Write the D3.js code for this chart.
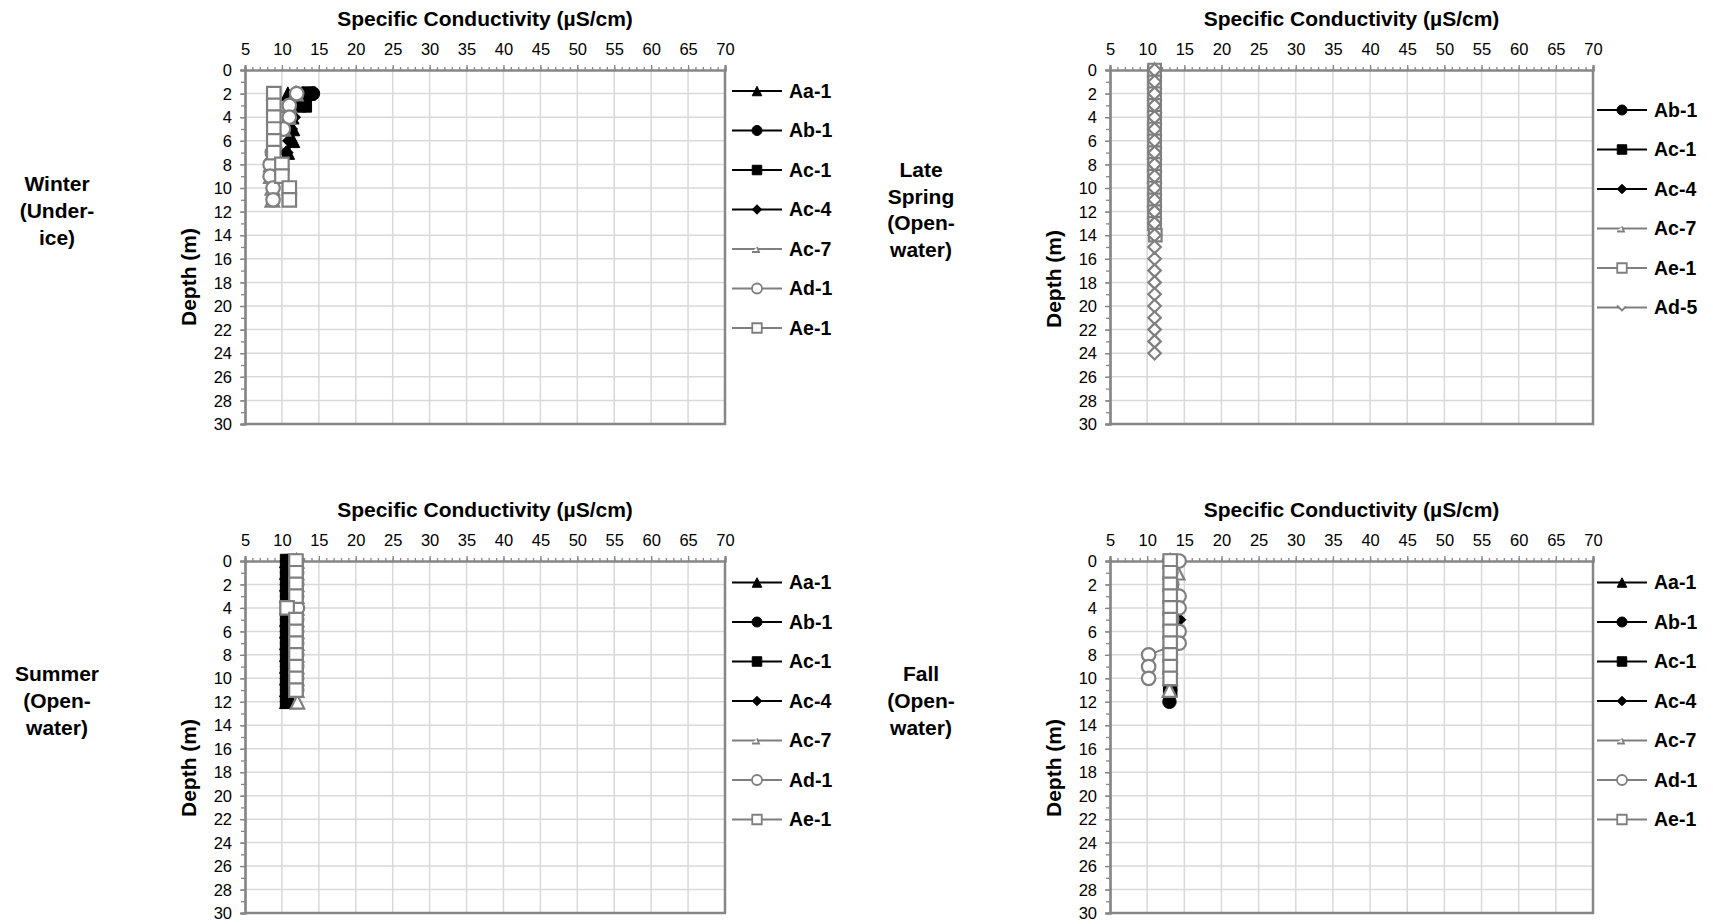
<!DOCTYPE html>
<html><head><meta charset="utf-8">
<script src="https://cdn.jsdelivr.net/npm/d3@7"></script>
<style>html,body{margin:0;padding:0;background:#fff;} svg{display:block;}</style>
</head><body>
<svg id="chart" width="1713" height="924"></svg>
<script>
// ---------- tick labels ----------
const condTicks  = [5,10,15,20,25,30,35,40,45,50,55,60,65,70];
const depthTicks = [0,2,4,6,8,10,12,14,16,18,20,22,24,26,28,30];

// ---------- Winter (Under-ice) ----------
const winterNames = ["Aa-1","Ab-1","Ac-1","Ac-4","Ac-7","Ad-1","Ae-1"];
const winterAa1Depth = [2,3,4,5,6,7];
const winterAa1Cond  = [10.8,11.3,11.4,11.5,11.5,10.8];
const winterAb1Depth = [2,3];
const winterAb1Cond  = [14.2,13.0];
const winterAc1Depth = [2,3];
const winterAc1Cond  = [13.6,13.1];
const winterAc4Depth = [2,3,4,5,6,7];
const winterAc4Cond  = [12.8,12.2,11.6,11.2,11.0,10.6];
const winterAc7Depth = [2,3,4,5,6,7,8,9,10,11];
const winterAc7Cond  = [11.9,11.0,10.9,10.2,9.0,8.8,8.5,8.5,8.7,8.7];
const winterAd1Depth = [2,3,4,5,6,7,8,9,10,11];
const winterAd1Cond  = [12.0,11.0,11.0,10.2,8.9,8.7,8.4,8.4,8.8,8.8];
const winterAe1Depth = [2,3,4,5,6,7,8,9,10,11];
const winterAe1Cond  = [8.9,8.9,8.9,8.9,8.9,8.9,10.0,10.0,11.0,11.0];

// ---------- Late Spring (Open-water) ----------
const springNames = ["Ab-1","Ac-1","Ac-4","Ac-7","Ae-1","Ad-5"];
const springAb1Depth = [0,1,2,3,4,5,6,7,8,9,10,11,12,13];
const springAb1Cond  = [11.0,11.0,11.0,11.0,11.0,11.0,11.0,11.0,11.0,11.0,11.0,11.0,11.0,11.0];
const springAc1Depth = [0,1,2,3,4,5,6,7,8,9,10,11,12,13];
const springAc1Cond  = [11.0,11.0,11.0,11.0,11.0,11.0,11.0,11.0,11.0,11.0,11.0,11.0,11.0,11.0];
const springAc4Depth = [0,1,2,3,4,5,6,7,8,9,10,11,12,13];
const springAc4Cond  = [11.0,11.0,11.0,11.0,11.0,11.0,11.0,11.0,11.0,11.0,11.0,11.0,11.0,11.0];
const springAc7Depth = [0,1,2,3,4,5,6,7,8,9,10,11,12,13];
const springAc7Cond  = [11.0,11.0,11.0,11.0,11.0,11.0,11.0,11.0,11.0,11.0,11.0,11.0,11.0,11.0];
const springAe1Depth = [0,1,2,3,4,5,6,7,8,9,10,11,12,13,14];
const springAe1Cond  = [11.0,11.0,11.0,11.0,11.0,11.0,11.0,11.0,11.0,11.0,11.0,11.0,11.0,11.0,11.1];
const springAd5Depth = [0,1,2,3,4,5,6,7,8,9,10,11,12,13,14,15,16,17,18,19,20,21,22,23,24];
const springAd5Cond  = [11.0,11.0,11.0,11.0,11.0,11.0,11.0,11.0,11.0,11.0,11.0,11.0,11.0,11.0,11.0,11.0,11.0,11.0,11.0,11.0,11.0,11.0,11.0,11.0,11.0];

// ---------- Summer (Open-water) ----------
const summerNames = ["Aa-1","Ab-1","Ac-1","Ac-4","Ac-7","Ad-1","Ae-1"];
const summerAa1Depth = [0,1,2,3,4,5,6,7,8,9,10,11,12];
const summerAa1Cond  = [10.6,10.6,10.6,10.6,10.6,10.6,10.6,10.6,10.6,10.6,10.6,10.6,10.6];
const summerAb1Depth = [0,1,2,3,4,5,6,7,8,9,10,11,12];
const summerAb1Cond  = [10.7,10.7,10.7,10.7,10.7,10.7,10.7,10.7,10.7,10.7,10.7,10.7,10.7];
const summerAc1Depth = [0,1,2,3,4,5,6,7,8,9,10,11,12];
const summerAc1Cond  = [10.7,10.7,10.7,10.7,10.7,10.7,10.7,10.7,10.7,10.7,10.7,10.7,10.7];
const summerAc4Depth = [0,1,2,3,4,5,6,7,8,9,10,11,12];
const summerAc4Cond  = [10.7,10.7,10.7,10.7,10.7,10.7,10.7,10.7,10.7,10.7,10.7,10.7,10.7];
const summerAc7Depth = [0,1,2,3,4,5,6,7,8,9,10,11,12];
const summerAc7Cond  = [12.0,12.0,12.0,12.0,12.0,12.0,12.0,12.0,12.0,12.0,12.0,12.0,12.1];
const summerAd1Depth = [0,1,2,3,4,5,6,7,8,9,10,11];
const summerAd1Cond  = [12.0,12.0,12.0,12.0,12.1,12.0,12.0,12.0,12.0,12.0,12.0,12.0];
const summerAe1Depth = [0,1,2,3,4,5,6,7,8,9,10,11];
const summerAe1Cond  = [11.9,11.9,11.9,11.9,10.7,11.9,11.9,11.9,11.9,11.9,11.9,11.9];

// ---------- Fall (Open-water) ----------
const fallNames = ["Aa-1","Ab-1","Ac-1","Ac-4","Ac-7","Ad-1","Ae-1"];
const fallAa1Depth = [0,1,2,3,4,5,6,7,8,9,10,11];
const fallAa1Cond  = [13.1,13.1,13.1,13.1,13.1,13.1,13.1,13.1,13.1,13.1,13.1,13.1];
const fallAb1Depth = [0,1,2,3,4,5,6,7,8,9,10,11,12];
const fallAb1Cond  = [13.1,13.1,13.1,13.1,13.1,13.1,13.1,13.1,13.1,13.1,13.1,13.1,13.0];
const fallAc1Depth = [0,1,2,3,4,5,6,7,8,9,10,11];
const fallAc1Cond  = [13.1,13.1,13.1,13.1,13.1,13.1,13.1,13.1,13.1,13.1,13.1,13.1];
const fallAc4Depth = [0,1,2,3,4,5,6,7,8,9,10,11];
const fallAc4Cond  = [13.1,13.1,13.1,13.1,13.1,14.3,13.1,13.1,13.1,13.1,13.1,13.1];
const fallAc7Depth = [0,1,2,3,4,5,6,7,8,9,10,11];
const fallAc7Cond  = [13.1,14.1,13.1,13.1,13.1,13.1,13.1,13.1,13.1,13.1,13.1,13.0];
const fallAd1Depth = [0,1,2,3,4,5,6,7,8,9,10];
const fallAd1Cond  = [14.3,13.2,13.3,14.3,14.3,13.3,14.3,14.3,10.2,10.2,10.2];
const fallAe1Depth = [0,1,2,3,4,5,6,7,8,9,10];
const fallAe1Cond  = [13.1,13.1,13.1,13.1,13.1,13.1,13.1,13.1,13.1,13.1,13.1];

// ---------- styles ----------
const FONT = "'Liberation Sans', Arial, Helvetica, sans-serif";
const GRAY = "#7f7f7f";
const AXIS = "#868686";
const styleOf = {
  "Aa-1": {shape:"triangle", color:"#000", fill:"#000"},
  "Ab-1": {shape:"circle",   color:"#000", fill:"#000"},
  "Ac-1": {shape:"square",   color:"#000", fill:"#000"},
  "Ac-4": {shape:"diamond",  color:"#000", fill:"#000"},
  "Ac-7": {shape:"triangle", color:GRAY,   fill:"#fff", legend:"odd7"},
  "Ad-1": {shape:"circle",   color:GRAY,   fill:"#fff"},
  "Ae-1": {shape:"square",   color:GRAY,   fill:"#fff"},
  "Ad-5": {shape:"diamond",  color:GRAY,   fill:"#fff", legend:"odd5"}
};

function markerPath(shape, s) {
  const h = s/2;
  if (shape === "square") return `M${-h},${-h}H${h}V${h}H${-h}Z`;
  if (shape === "triangle") return `M0,${-h}L${h},${h}L${-h},${h}Z`;
  if (shape === "diamond") return `M0,${-h}L${h},0L0,${h}L${-h},0Z`;
  if (shape === "odd7") return `M-5,3H2L0,-2`;
  if (shape === "odd5") return `M-5,-2L0,3L4,-1`;
  const p = d3.path(); p.arc(0,0,h,0,2*Math.PI); p.closePath(); return p.toString();
}

function makeSeries(names, prefix) {
  const lookup = {
    winter: {"Aa-1":[winterAa1Depth,winterAa1Cond],"Ab-1":[winterAb1Depth,winterAb1Cond],"Ac-1":[winterAc1Depth,winterAc1Cond],"Ac-4":[winterAc4Depth,winterAc4Cond],"Ac-7":[winterAc7Depth,winterAc7Cond],"Ad-1":[winterAd1Depth,winterAd1Cond],"Ae-1":[winterAe1Depth,winterAe1Cond]},
    spring: {"Ab-1":[springAb1Depth,springAb1Cond],"Ac-1":[springAc1Depth,springAc1Cond],"Ac-4":[springAc4Depth,springAc4Cond],"Ac-7":[springAc7Depth,springAc7Cond],"Ae-1":[springAe1Depth,springAe1Cond],"Ad-5":[springAd5Depth,springAd5Cond]},
    summer: {"Aa-1":[summerAa1Depth,summerAa1Cond],"Ab-1":[summerAb1Depth,summerAb1Cond],"Ac-1":[summerAc1Depth,summerAc1Cond],"Ac-4":[summerAc4Depth,summerAc4Cond],"Ac-7":[summerAc7Depth,summerAc7Cond],"Ad-1":[summerAd1Depth,summerAd1Cond],"Ae-1":[summerAe1Depth,summerAe1Cond]},
    fall:   {"Aa-1":[fallAa1Depth,fallAa1Cond],"Ab-1":[fallAb1Depth,fallAb1Cond],"Ac-1":[fallAc1Depth,fallAc1Cond],"Ac-4":[fallAc4Depth,fallAc4Cond],"Ac-7":[fallAc7Depth,fallAc7Cond],"Ad-1":[fallAd1Depth,fallAd1Cond],"Ae-1":[fallAe1Depth,fallAe1Cond]}
  }[prefix];
  return names.map(n => ({name:n, pts: lookup[n][0].map((d,i)=>({depth:d, cond:lookup[n][1][i]}))}));
}

const panels = [
  {key:"winter", names:winterNames, x0:245, x1:725, y0:70, y1:424, ms:13.5,
   legX:732, legY:91, label:["Winter","(Under-","ice)"], labelX:57, labelY:184, depthX:189, depthY:277},
  {key:"spring", names:springNames, x0:1110, x1:1593, y0:70, y1:424, ms:12.5,
   legX:1597, legY:110, label:["Late","Spring","(Open-","water)"], labelX:921, labelY:169.5, depthX:1054, depthY:279},
  {key:"summer", names:summerNames, x0:245, x1:725, y0:561, y1:913, ms:13.5,
   legX:732, legY:582.5, label:["Summer","(Open-","water)"], labelX:57, labelY:674, depthX:189, depthY:768},
  {key:"fall", names:fallNames, x0:1110, x1:1593, y0:561, y1:913, ms:13.5,
   legX:1597, legY:582.5, label:["Fall","(Open-","water)"], labelX:921, labelY:674, depthX:1054, depthY:768}
];

const svg = d3.select("#chart").style("font-family", FONT);

panels.forEach(cfg => {
  const g = svg.append("g");
  const x = d3.scaleLinear().domain([5,70]).range([cfg.x0,cfg.x1]);
  const y = d3.scaleLinear().domain([0,30]).range([cfg.y0,cfg.y1]);

  // gridlines
  g.append("g").selectAll("line").data(condTicks.slice(1,-1)).join("line")
    .attr("x1",d=>x(d)).attr("x2",d=>x(d)).attr("y1",cfg.y0).attr("y2",cfg.y1)
    .attr("stroke","#d9d9d9").attr("stroke-width",1.5);
  g.append("g").selectAll("line").data(depthTicks.slice(1,-1)).join("line")
    .attr("y1",d=>y(d)).attr("y2",d=>y(d)).attr("x1",cfg.x0).attr("x2",cfg.x1)
    .attr("stroke","#d9d9d9").attr("stroke-width",1.5);

  // right & bottom border
  g.append("path").attr("d",`M${cfg.x1},${cfg.y0}V${cfg.y1}H${cfg.x0}`)
    .attr("fill","none").attr("stroke",AXIS).attr("stroke-width",2.5);

  // top axis (minor + major)
  const minorX = d3.range(5,71,1);
  const topMinor = g.append("g").attr("transform",`translate(0,${cfg.y0})`)
    .call(d3.axisTop(x).tickValues(minorX).tickSize(3).tickFormat(""));
  const topMajor = g.append("g").attr("transform",`translate(0,${cfg.y0})`)
    .call(d3.axisTop(x).tickValues(condTicks).tickSize(5).tickPadding(10).tickFormat(d3.format("d")));
  // left axis
  const minorY = d3.range(0,31,1);
  const leftMinor = g.append("g").attr("transform",`translate(${cfg.x0},0)`)
    .call(d3.axisLeft(y).tickValues(minorY).tickSize(4).tickFormat(""));
  const leftMajor = g.append("g").attr("transform",`translate(${cfg.x0},0)`)
    .call(d3.axisLeft(y).tickValues(depthTicks).tickSize(5).tickPadding(8).tickFormat(d3.format("d")));
  [topMinor, topMajor, leftMinor, leftMajor].forEach(a => {
    a.select(".domain").attr("stroke",AXIS).attr("stroke-width",2.2);
    a.selectAll(".tick line").attr("stroke",AXIS).attr("stroke-width",1.3);
    a.selectAll(".tick text").attr("fill","#000").style("font-size","16.5px").style("font-family",FONT);
  });
  leftMajor.selectAll(".tick text").attr("dy","0.34em");

  // axis titles
  g.append("text").attr("x",(cfg.x0+cfg.x1)/2).attr("y",cfg.y0-51.5).attr("dy","0.35em")
    .attr("text-anchor","middle").style("font-size","21px").style("font-weight","bold")
    .text("Specific Conductivity (µS/cm)");
  g.append("text").attr("transform",`translate(${cfg.depthX},${cfg.depthY}) rotate(-90)`)
    .attr("dy","0.35em").attr("text-anchor","middle").style("font-size","21px").style("font-weight","bold")
    .text("Depth (m)");

  // row label
  const lab = svg.append("text").attr("text-anchor","middle").style("font-size","21px").style("font-weight","bold");
  cfg.label.forEach((t,i) => lab.append("tspan").attr("x",cfg.labelX).attr("y",cfg.labelY + i*26.8).attr("dy","0.35em").text(t));

  // series
  const series = makeSeries(cfg.names, cfg.key);
  const line = d3.line().x(p=>x(p.cond)).y(p=>y(p.depth));
  series.forEach(s => {
    const st = styleOf[s.name];
    const sg = g.append("g");
    sg.append("path").attr("d", line(s.pts)).attr("fill","none")
      .attr("stroke", st.color).attr("stroke-width", 2);
    sg.selectAll("path.m").data(s.pts).join("path").attr("class","m")
      .attr("transform", p=>`translate(${x(p.cond)},${y(p.depth)})`)
      .attr("d", markerPath(st.shape, cfg.ms))
      .attr("fill", st.fill).attr("stroke", st.color)
      .attr("stroke-width", st.fill === "#000" ? 1 : 2.2);
  });

  // legend
  const lg = g.append("g");
  cfg.names.forEach((n,i) => {
    const st = styleOf[n];
    const yy = cfg.legY + i*39.5;
    lg.append("line").attr("x1",cfg.legX).attr("x2",cfg.legX+50).attr("y1",yy).attr("y2",yy)
      .attr("stroke", st.color).attr("stroke-width", 2.2);
    const shp = st.legend || st.shape;
    const odd = !!st.legend;
    lg.append("path").attr("transform",`translate(${cfg.legX+25},${yy})`)
      .attr("d", markerPath(shp, st.shape === "circle" ? 10 : 9.5))
      .attr("fill", odd ? "#fff" : st.fill).attr("stroke", st.color)
      .attr("stroke-width", st.fill === "#000" ? 1 : 1.8);
    lg.append("text").attr("x",cfg.legX+57).attr("y",yy).attr("dy","0.35em")
      .style("font-size","19.5px").style("font-weight","bold").text(n);
  });
});
</script>
</body></html>
